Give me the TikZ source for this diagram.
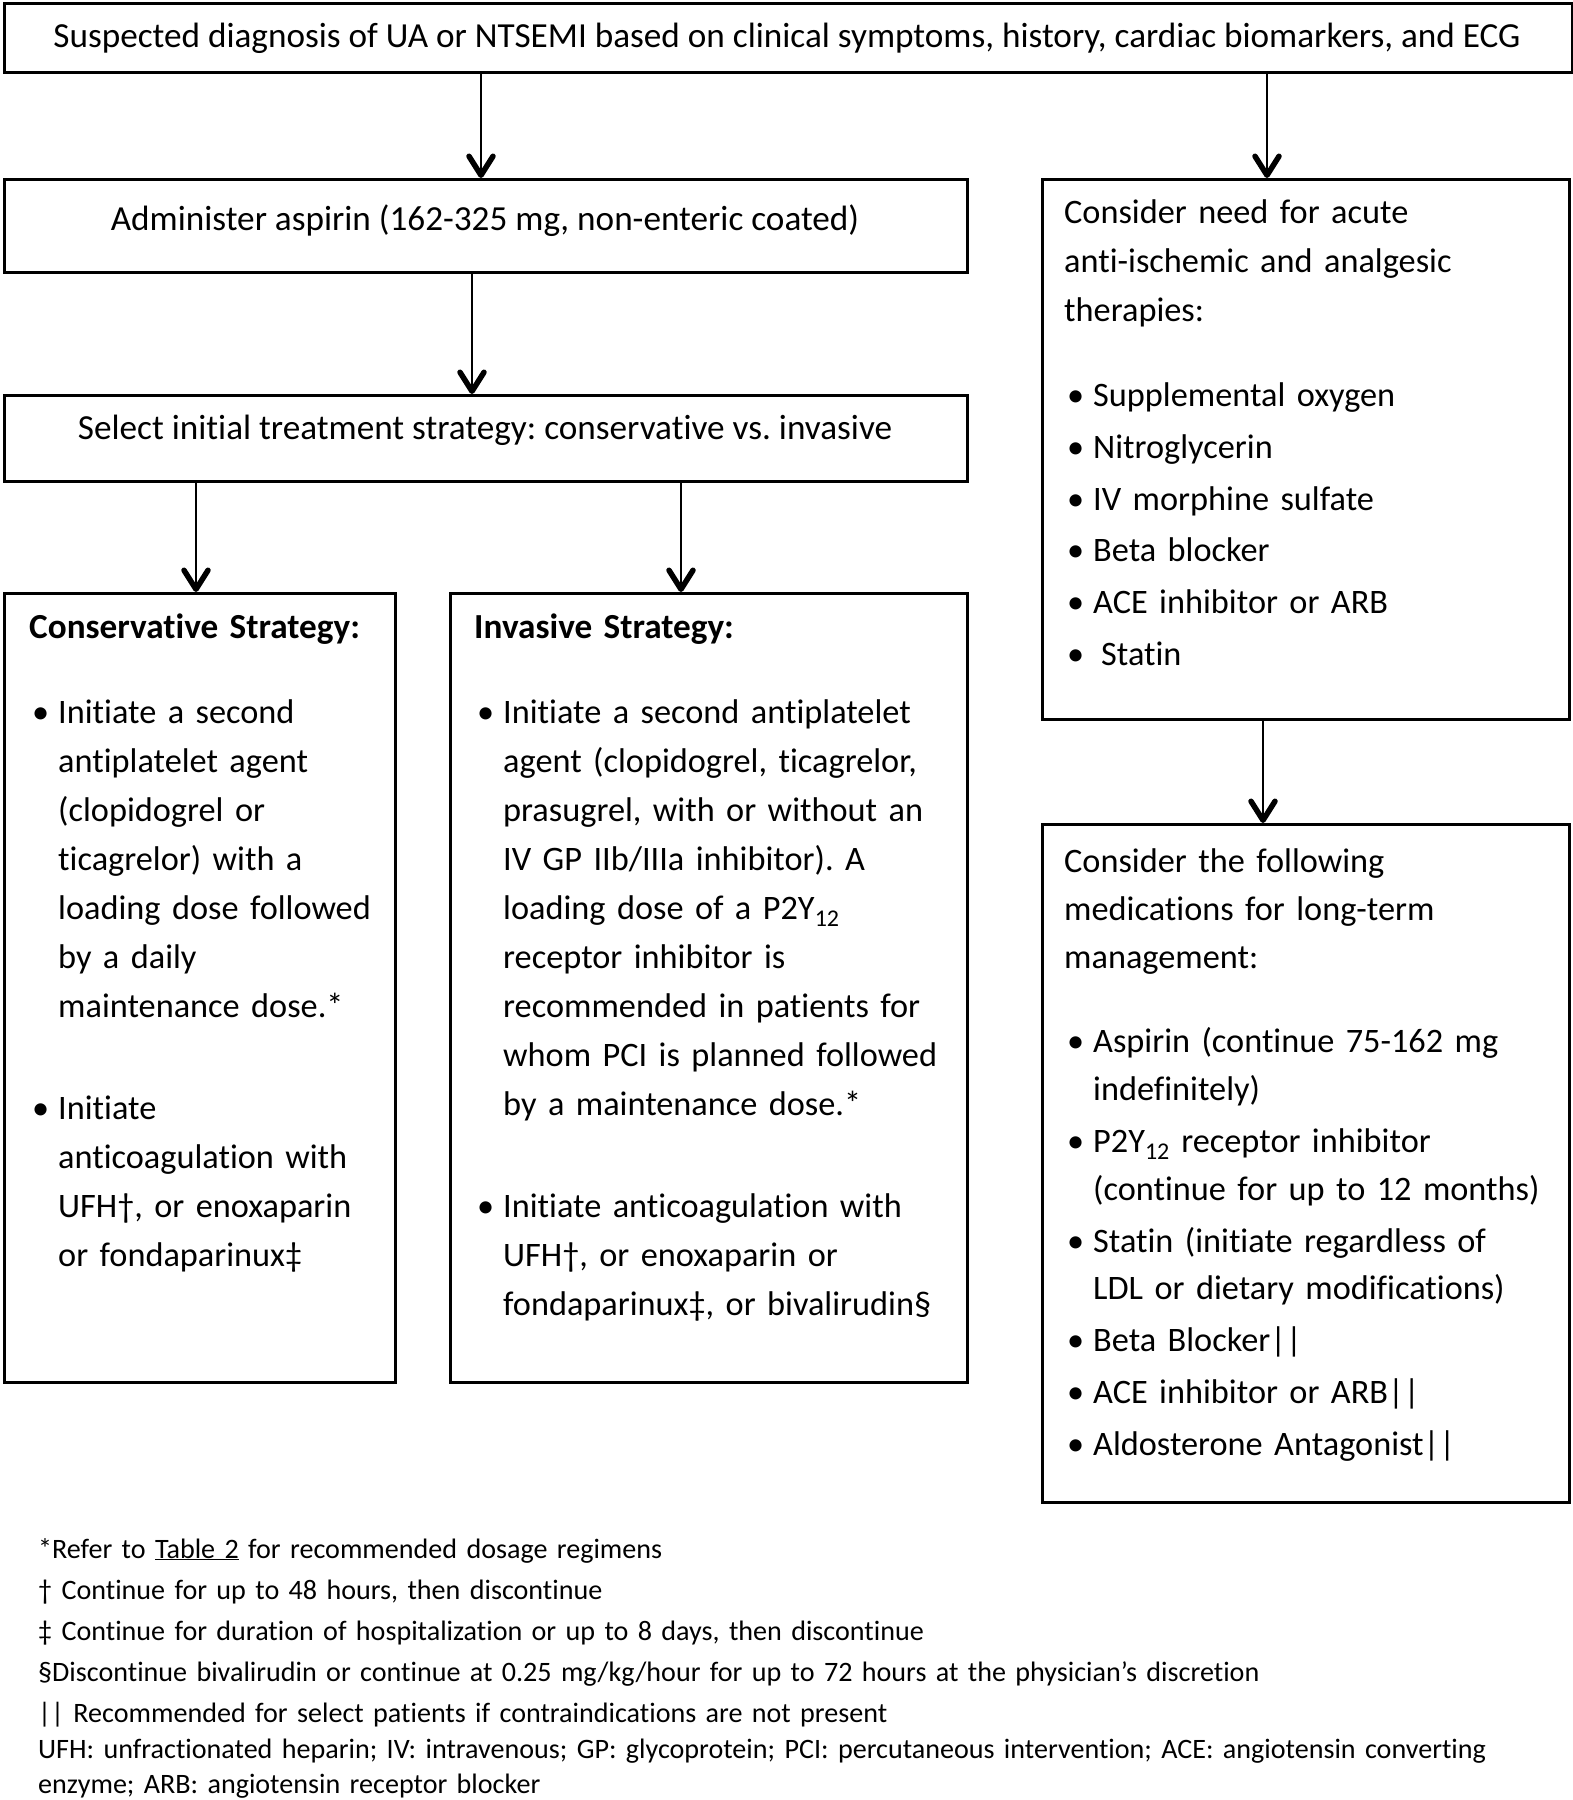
\documentclass[tikz,border=0pt]{standalone}
\usepackage{fontspec}
\setmainfont{Carlito}[Ligatures=NoCommon]
\usetikzlibrary{arrows.meta}
\newcommand{\itm}{\hspace*{3pt}\makebox[26pt][l]{•}}
\newcommand{\cnt}{\hspace*{29pt}}
\newcommand{\ttl}[1]{{\fontsize{35.2}{48.9}\selectfont\bfseries #1}}
\begin{document}
\frenchspacing
\begin{tikzpicture}[x=1pt,y=-1pt,
  box/.style={draw, line width=2.7pt, inner sep=0pt, anchor=north west},
  arr/.style={line width=2.7pt, -{Straight Barb[length=19pt,width=24pt,line width=5.5pt,round]}},
  txt/.style={inner sep=0pt, font=\fontsize{35.2}{48.9}\selectfont},
  mtxt/.style={inner sep=0pt, anchor=base west, text width=560pt, align=left, font=\fontsize{34.3}{48.9}\selectfont},
  ftxt/.style={inner sep=0pt, anchor=base west, text width=1540pt, align=left, font=\fontsize{28.1}{34.5}\selectfont}]
\useasboundingbox (0,0) rectangle (1573,1800);
% boxes
\node[box, minimum width=1568pt, minimum height=69pt] (top) at (3,2) {};
\node[box, minimum width=963pt, minimum height=93pt] (asp) at (3,178) {};
\node[box, minimum width=963pt, minimum height=86pt] (sel) at (3,394) {};
\node[box, minimum width=391pt, minimum height=789pt] (cons) at (3,592) {};
\node[box, minimum width=517pt, minimum height=789pt] (inv) at (449,592) {};
\node[box, minimum width=527pt, minimum height=540pt] (acute) at (1041,178) {};
\node[box, minimum width=527pt, minimum height=678pt] (long) at (1041,823) {};
% texts
\node[txt, anchor=base] (toptxt) at (787,47) {Suspected diagnosis of UA or NTSEMI based on clinical symptoms, history, cardiac biomarkers, and ECG};
\node[txt, anchor=base] (asptxt) at (485,230) {Administer aspirin (162-325 mg, non-enteric coated)};
\node[txt, anchor=base] (seltxt) at (485,439) {Select initial treatment strategy: conservative vs. invasive};
\node[mtxt] (constxt) at (29,638) {\ttl{Conservative Strategy:}\\[37pt]
\itm Initiate a second\\
\cnt antiplatelet agent\\
\cnt (clopidogrel or\\
\cnt ticagrelor) with a\\
\cnt loading dose followed\\
\cnt by a daily\\
\cnt maintenance dose.*\\[53.5pt]
\itm Initiate\\
\cnt anticoagulation with\\
\cnt UFH†, or enoxaparin\\
\cnt or fondaparinux‡};
\node[mtxt] (invtxt) at (474,638) {\ttl{Invasive Strategy:}\\[37pt]
\itm Initiate a second antiplatelet\\
\cnt agent (clopidogrel, ticagrelor,\\
\cnt prasugrel, with or without an\\
\cnt IV GP IIb/IIIa inhibitor). A\\
\cnt loading dose of a P2Y\textsubscript{12}\\
\cnt receptor inhibitor is\\
\cnt recommended in patients for\\
\cnt whom PCI is planned followed\\
\cnt by a maintenance dose.*\\[53.5pt]
\itm Initiate anticoagulation with\\
\cnt UFH†, or enoxaparin or\\
\cnt fondaparinux‡, or bivalirudin§};
\node[mtxt] (acutetxt) at (1064,223) {Consider need for acute\\[1pt]
anti-ischemic and analgesic\\
therapies:\\[35.5pt]
\itm Supplemental oxygen\\[3pt]
\itm Nitroglycerin\\[3pt]
\itm IV morphine sulfate\\[3pt]
\itm Beta blocker\\[3pt]
\itm ACE inhibitor or ARB\\[3pt]
\itm\hspace*{8pt}Statin};
\node[mtxt, font=\fontsize{34.3}{47.8}\selectfont] (longtxt) at (1064,872.5) {Consider the following\\
medications for long-term\\
management:\\[37pt]
\itm Aspirin (continue 75-162 mg\\
\cnt indefinitely)\\[4pt]
\itm P2Y\textsubscript{12} receptor inhibitor\\
\cnt (continue for up to 12 months)\\[4pt]
\itm Statin (initiate regardless of\\
\cnt LDL or dietary modifications)\\[4pt]
\itm Beta Blocker||\\[4pt]
\itm ACE inhibitor or ARB||\\[4pt]
\itm Aldosterone Antagonist||};
\node[ftxt] (notes) at (38,1558) {*Refer to \underline{Table 2} for recommended dosage regimens\\[6.5pt]
† Continue for up to 48 hours, then discontinue\\[6.5pt]
‡ Continue for duration of hospitalization or up to 8 days, then discontinue\\[6.5pt]
§Discontinue bivalirudin or continue at 0.25 mg/kg/hour for up to 72 hours at the physician’s discretion\\[6.5pt]
|| Recommended for select patients if contraindications are not present\\[2pt]
UFH: unfractionated heparin; IV: intravenous; GP: glycoprotein; PCI: percutaneous intervention; ACE: angiotensin converting\\
enzyme; ARB: angiotensin receptor blocker};
% arrows
\draw[arr] ([xshift=478pt]top.south west) -- ([xshift=478pt]top.south west |- asp.north);
\draw[arr] ([xshift=1264pt]top.south west) -- ([xshift=1264pt]top.south west |- acute.north);
\draw[arr] ([xshift=469pt]asp.south west) -- ([xshift=469pt]asp.south west |- sel.north);
\draw[arr] ([xshift=193pt]sel.south west) -- ([xshift=193pt]sel.south west |- cons.north);
\draw[arr] ([xshift=678pt]sel.south west) -- ([xshift=678pt]sel.south west |- inv.north);
\draw[arr] ([xshift=222pt]acute.south west) -- ([xshift=222pt]acute.south west |- long.north);
\end{tikzpicture}
\end{document}
